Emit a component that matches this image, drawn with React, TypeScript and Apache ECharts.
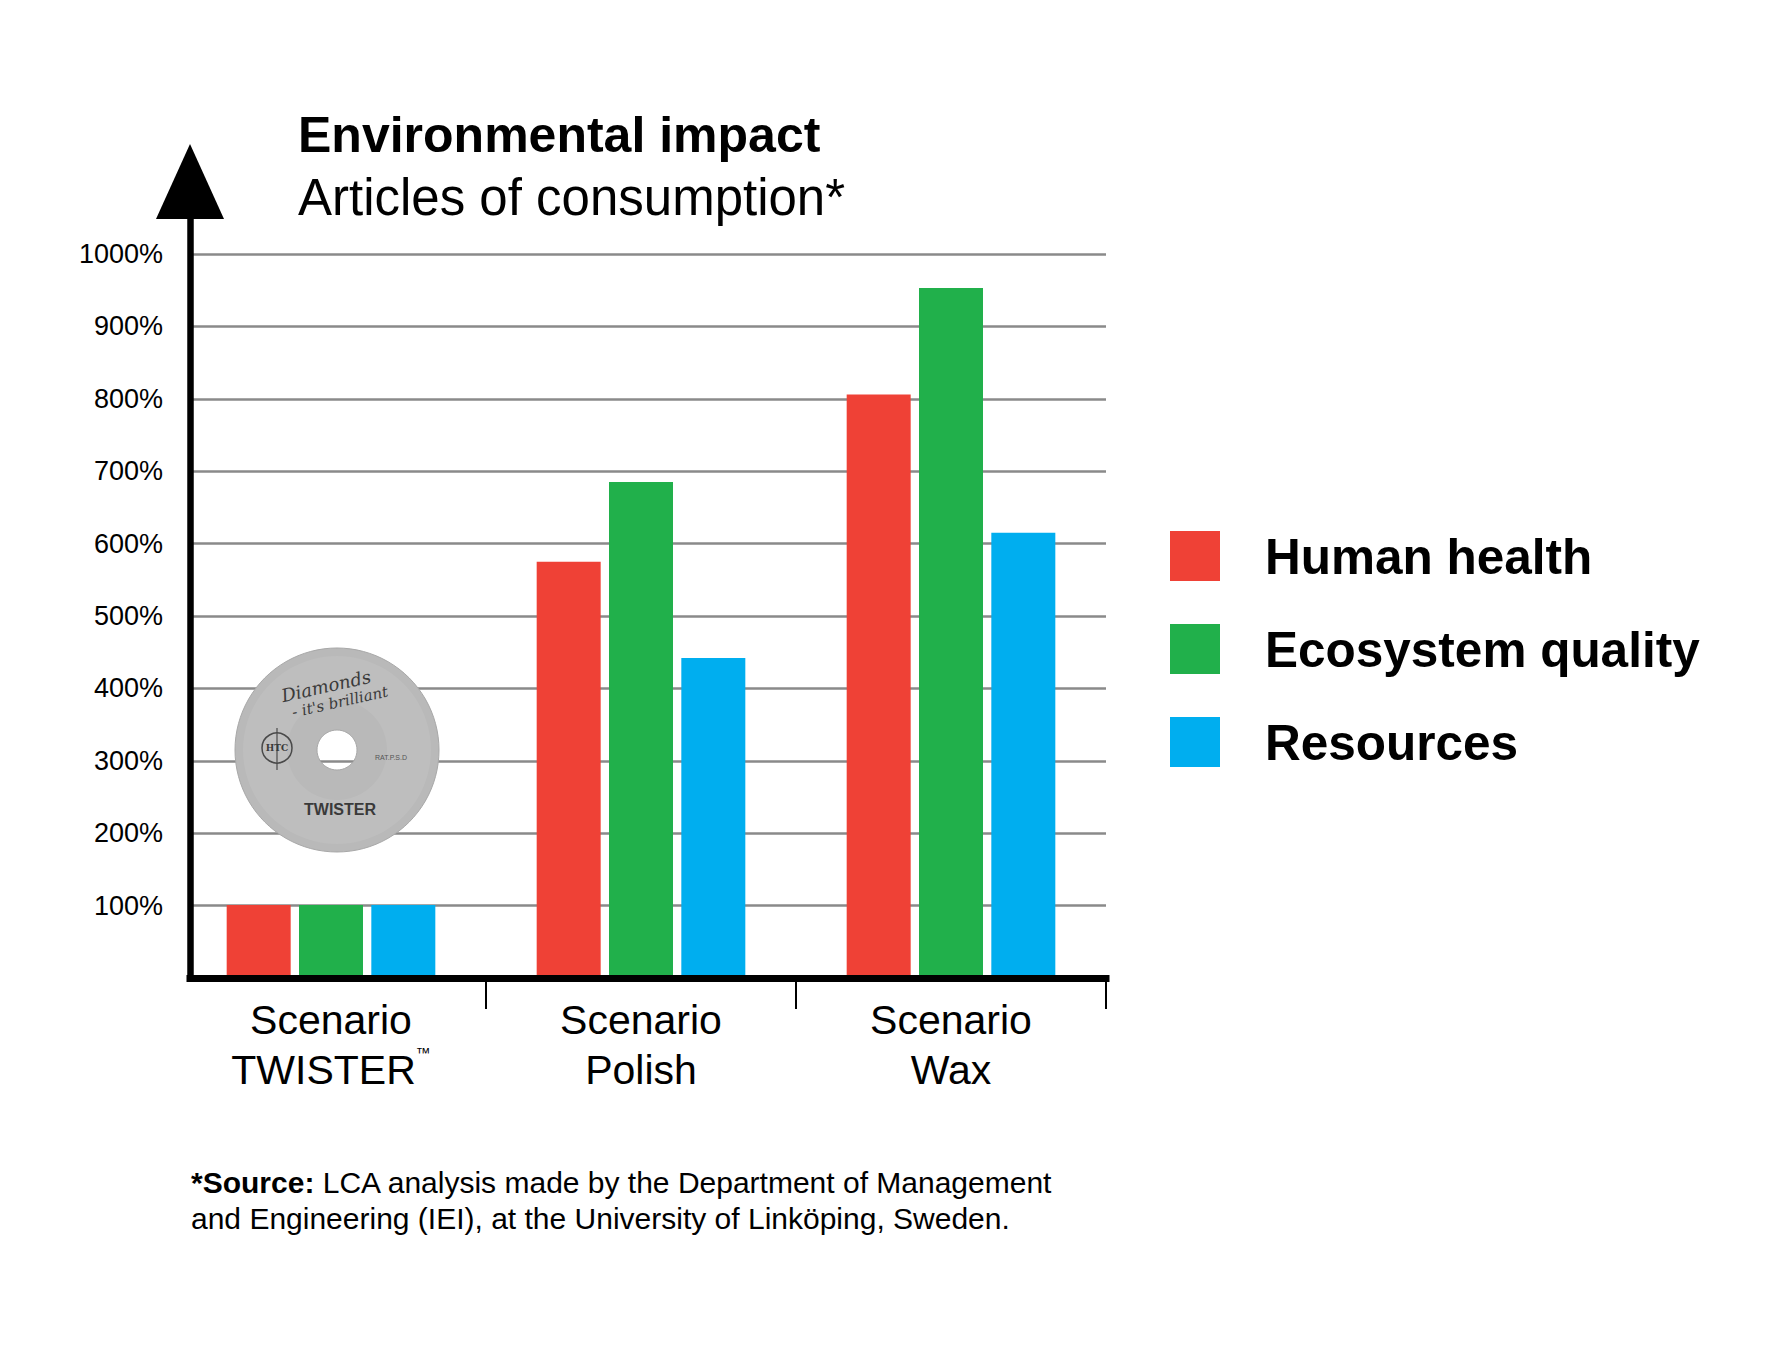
import React, { useEffect, useRef } from 'react';
import * as echarts from 'echarts';

// ---- data ----
const categories = ['Scenario\nTWISTER™', 'Scenario\nPolish', 'Scenario\nWax'];
const seriesNames = ['Human health', 'Ecosystem quality', 'Resources'];
const humanHealth = [101, 575, 806];
const ecosystemQuality = [101, 685, 953];
const resources = [101, 442, 615];
const seriesColors = ['#EF4136', '#21B04B', '#00AEEF'];
const titleText = 'Environmental impact';
const subtitleText = 'Articles of consumption*';
const footnoteBold = '*Source:';
const footnoteRest = ' LCA analysis made by the Department of Management\nand Engineering (IEI), at the University of Linköping, Sweden.';
const yMax = 1000;
const yStep = 100;

export default function App() {
  const ref = useRef<HTMLDivElement>(null);

  useEffect(() => {
    document.body.style.margin = '0';
    const chart = echarts.init(ref.current as HTMLDivElement, null, { renderer: 'svg' });
    const FONT = 'Liberation Sans';
    const W = 1772;
    const H = 1346;
    const axisX = 190;
    const rightX = 1106;
    const baseY = 978;
    const topY = 254;
    const per100 = (baseY - topY) / (yMax / yStep);
    const arrowMax = yMax + yStep;
    const frameTop = baseY - (arrowMax / yStep) * per100;

    const gridColors: string[] = [];
    for (let i = 0; i <= arrowMax / yStep; i++) gridColors.push(i === arrowMax / yStep ? 'rgba(0,0,0,0)' : '#8a8a8a');

    const seriesData = [humanHealth, ecosystemQuality, resources];

    const discCx = 337;
    const discCy = 750;
    const DZ = 100;

    const option: any = {
      animation: false,
      backgroundColor: '#ffffff',
      title: {
        left: 298,
        top: 110,
        padding: 0,
        itemGap: 12,
        text: titleText,
        subtext: subtitleText,
        textStyle: { fontSize: 50, fontWeight: 'bold', color: '#000', fontFamily: FONT, lineHeight: 50 },
        subtextStyle: { fontSize: 51, fontWeight: 'normal', color: '#000', fontFamily: FONT, lineHeight: 50 },
      },
      legend: {
        orient: 'vertical',
        left: 1170,
        top: 531,
        itemWidth: 50,
        itemHeight: 50,
        itemGap: 43,
        icon: 'rect',
        padding: 0,
        data: seriesNames,
        textStyle: { fontSize: 49.5, fontWeight: 'bold', color: '#000', fontFamily: FONT, padding: [0, 0, 0, 40] },
      },
      grid: [
        { left: axisX, right: W - rightX, top: frameTop, bottom: H - baseY },
        { left: 176, right: W - rightX, top: topY, bottom: H - baseY },
      ],
      xAxis: [
        {
          gridIndex: 0,
          type: 'value',
          min: 0,
          max: 1,
          z: 10,
          axisLine: { show: true, onZero: false, lineStyle: { color: '#000', width: 7, cap: 'square' } },
          axisTick: { show: false },
          axisLabel: { show: false },
          splitLine: { show: false },
        },
        {
          gridIndex: 1,
          type: 'category',
          data: categories,
          axisLine: { show: false },
          axisTick: { show: true, length: 31, interval: (i: number) => i !== 0, lineStyle: { color: '#000', width: 2 } },
          axisLabel: {
            interval: 0,
            margin: 17,
            fontSize: 41,
            lineHeight: 50,
            color: '#000',
            fontFamily: FONT,
            formatter: (v: string) => v.replace('™', '{tm|™}'),
            rich: { tm: { fontSize: 15, lineHeight: 30, verticalAlign: 'top', color: '#000', fontFamily: FONT } },
          },
          splitLine: { show: false },
        },
      ],
      yAxis: [
        {
          gridIndex: 0,
          type: 'value',
          min: 0,
          max: arrowMax,
          interval: yStep,
          axisLine: {
            show: true,
            symbol: ['none', 'triangle'],
            symbolSize: [68, 75],
            lineStyle: { color: '#000', width: 6.5 },
          },
          axisTick: { show: false },
          axisLabel: {
            fontSize: 27,
            color: '#000',
            fontFamily: FONT,
            margin: 27,
            formatter: (v: number) => (v > 0 && v <= yMax ? `${v}%` : ''),
          },
          splitLine: { show: true, showMaxLine: false, lineStyle: { color: gridColors, width: 2.5 } },
        },
        { gridIndex: 1, type: 'value', min: 0, max: yMax, show: false },
      ],
      series: seriesNames.map((name, i) => ({
        name,
        type: 'bar',
        xAxisIndex: 1,
        yAxisIndex: 1,
        barWidth: 64,
        barGap: '13%',
        itemStyle: { color: seriesColors[i] },
        data: seriesData[i],
      })),
      graphic: [
        { type: 'ring', z: DZ, shape: { cx: discCx, cy: discCy, r: 102, r0: 20 }, style: { fill: '#b9b9b9', stroke: '#a8a8a8', lineWidth: 1 } },
        { type: 'ring', z: DZ + 1, shape: { cx: discCx, cy: discCy, r: 94, r0: 50 }, style: { fill: 'rgba(255,255,255,0.08)' } },
        {
          type: 'text', z: DZ + 2, x: 326, y: 686, rotation: 0.22,
          style: { text: 'Diamonds', fontSize: 18, fontStyle: 'italic', fontFamily: 'DejaVu Serif', fill: '#3a3a3a', align: 'center', verticalAlign: 'middle' },
        },
        {
          type: 'text', z: DZ + 2, x: 340, y: 702, rotation: 0.22,
          style: { text: "- it's brilliant", fontSize: 15, fontStyle: 'italic', fontFamily: 'DejaVu Serif', fill: '#3a3a3a', align: 'center', verticalAlign: 'middle' },
        },
        { type: 'circle', z: DZ + 2, shape: { cx: 277, cy: 748, r: 15 }, style: { fill: 'rgba(0,0,0,0)', stroke: '#4a4a4a', lineWidth: 1.5 } },
        { type: 'line', z: DZ + 2, shape: { x1: 277, y1: 728, x2: 277, y2: 770 }, style: { stroke: '#4a4a4a', lineWidth: 1.2 } },
        {
          type: 'text', z: DZ + 3, x: 277, y: 748,
          style: { text: 'HTC', fontSize: 9, fontWeight: 'bold', fontFamily: 'DejaVu Serif', fill: '#3a3a3a', align: 'center', verticalAlign: 'middle' },
        },
        {
          type: 'text', z: DZ + 2, x: 391, y: 757,
          style: { text: 'RAT.P.S.D', fontSize: 7, fontFamily: FONT, fill: '#555', align: 'center', verticalAlign: 'middle' },
        },
        {
          type: 'text', z: DZ + 2, x: 340, y: 809,
          style: { text: 'TWISTER', fontSize: 16, fontWeight: 'bold', fontFamily: FONT, fill: '#3a3a3a', align: 'center', verticalAlign: 'middle' },
        },
        {
          type: 'text',
          left: 191,
          top: 1164,
          style: {
            text: `{b|${footnoteBold}}${footnoteRest}`,
            fontSize: 30,
            lineHeight: 36,
            fontFamily: FONT,
            fill: '#000',
            rich: { b: { fontSize: 30, lineHeight: 36, fontWeight: 'bold', fontFamily: FONT, fill: '#000' } },
          },
        },
      ],
    };

    chart.setOption(option);
    return () => chart.dispose();
  }, []);

  return <div ref={ref} style={{ width: 1772, height: 1346 }} />;
}
